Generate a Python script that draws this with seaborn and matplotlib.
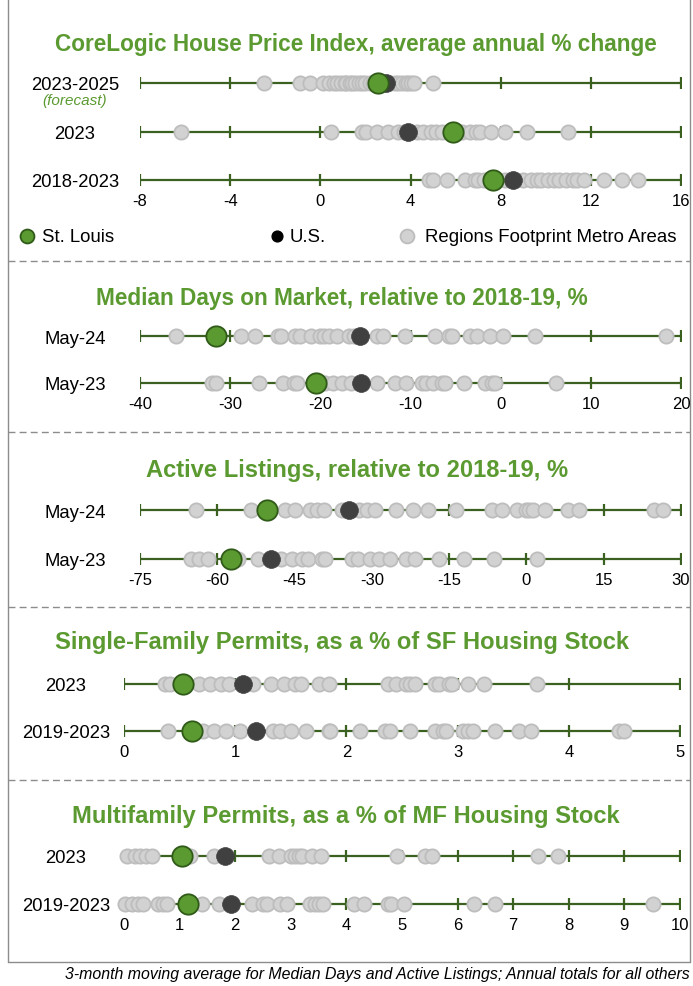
import numpy as np
import pandas as pd
import matplotlib
matplotlib.use("Agg")
import matplotlib.pyplot as plt
import seaborn as sns

sns.set_theme(style="white")
plt.rcParams['font.family'] = ['Liberation Sans', 'DejaVu Sans']

GREEN = '#5b9a30'
GREEN_EDGE = '#2f5a18'
AXIS_GREEN = '#3b6121'
US_GRAY = '#404040'
REG_FILL = '#d2d2d2'
REG_EDGE = '#bdbdbd'
TXT = '#000000'

# ---------------- data ----------------
# CoreLogic HPI
hpi_rows = ['2023-2025', '2023', '2018-2023']
hpi_ticks = [-8, -4, 0, 4, 8, 12, 16]
hpi_stl = [2.55, 5.9, 7.65]
hpi_us = [2.9, 3.9, 8.55]
hpi_regions = [
    [-2.5, -0.9, -0.45, 0.1, 0.37, 0.6, 0.75, 0.92, 1.08, 1.16, 1.3, 1.4, 1.55, 1.7, 1.87,
     2.0, 2.2, 2.35, 3.1, 3.3, 3.45, 3.62, 3.8, 3.9, 4.02, 4.17, 5.0],
    [-6.17, 0.49, 1.87, 2.03, 2.5, 2.98, 3.46, 3.7, 4.3, 4.57, 4.9, 5.13, 5.4, 6.3, 6.63,
     6.9, 7.1, 7.59, 8.19, 9.17, 11.0],
    [4.81, 5.02, 5.6, 6.4, 6.87, 7.0, 7.27, 8.2, 9.0, 9.33, 9.6, 9.81, 10.1, 10.37, 10.6,
     10.92, 11.2, 11.4, 11.71, 12.59, 13.38, 14.1],
]

# Median days on market
dom_rows = ['May-24', 'May-23']
dom_ticks = [-40, -30, -20, -10, 0, 10, 20]
dom_stl = [-31.56, -20.48]
dom_us = [-15.56, -15.52]
dom_regions = [
    [-36.0, -28.8, -27.3, -24.75, -24.36, -22.77, -22.2, -21.0, -20.0, -19.6, -19.0, -18.2,
     -16.83, -16.24, -13.66, -13.07, -10.57, -7.33, -5.74, -5.35, -3.37, -2.57, -1.19, 0.28,
     3.76, 18.3],
    [-31.96, -31.6, -26.8, -24.16, -22.97, -22.57, -19.5, -18.61, -17.62, -16.63, -13.66,
     -11.68, -10.5, -8.71, -8.32, -7.52, -6.53, -6.14, -4.08, -1.78, -1.0, -0.6, 6.14],
]

# Active listings
act_rows = ['May-24', 'May-23']
act_ticks = [-75, -60, -45, -30, -15, 0, 15, 30]
act_stl = [-50.33, -57.26]
act_us = [-34.46, -49.57]
act_regions = [
    [-64.05, -53.5, -46.9, -44.85, -42.1, -40.7, -39.3, -35.8, -32.4, -31.0, -29.3, -25.3,
     -22.0, -19.07, -13.67, -6.74, -4.66, -1.89, -0.15, 0.54, 1.23, 3.66, 8.16, 10.24,
     24.8, 26.5],
    [-65.1, -63.6, -61.8, -55.9, -52.1, -47.6, -45.5, -43.5, -42.4, -39.7, -39.0, -33.9,
     -32.7, -30.4, -28.6, -26.5, -23.4, -21.6, -17.0, -12.14, -6.25, 2.13],
]

# Single-family permits
sf_rows = ['2023', '2019-2023']
sf_ticks = [0, 1, 2, 3, 4, 5]
sf_stl = [0.53, 0.61]
sf_us = [1.07, 1.19]
sf_regions = [
    [0.37, 0.41, 0.67, 0.77, 0.87, 0.94, 1.16, 1.32, 1.44, 1.54, 1.59, 1.75, 1.84, 2.37,
     2.45, 2.54, 2.57, 2.62, 2.80, 2.83, 2.92, 2.95, 3.09, 3.24, 3.71],
    [0.40, 0.71, 0.81, 0.92, 1.04, 1.34, 1.40, 1.50, 1.64, 1.84, 1.85, 2.12, 2.35, 2.39,
     2.57, 2.80, 2.87, 2.90, 3.05, 3.09, 3.14, 3.34, 3.55, 3.66, 4.45, 4.50],
]

# Multifamily permits
mf_rows = ['2023', '2019-2023']
mf_ticks = [0, 1, 2, 3, 4, 5, 6, 7, 8, 9, 10]
mf_stl = [1.05, 1.16]
mf_us = [1.81, 1.93]
mf_regions = [
    [0.05, 0.2, 0.28, 0.4, 0.51, 1.18, 1.61, 2.61, 2.78, 3.01, 3.08, 3.15, 3.21, 3.38,
     3.54, 4.91, 5.41, 5.54, 7.44, 7.80],
    [0.01, 0.15, 0.25, 0.35, 0.61, 0.7, 0.78, 1.41, 1.71, 2.31, 2.5, 2.58, 2.81, 2.94,
     3.34, 3.44, 3.5, 3.58, 4.14, 4.31, 4.74, 4.81, 5.04, 6.30, 6.67, 9.51],
]

titles = [
    'CoreLogic House Price Index, average annual % change',
    'Median Days on Market, relative to 2018-19, %',
    'Active Listings, relative to 2018-19, %',
    'Single-Family Permits, as a % of SF Housing Stock',
    'Multifamily Permits, as a % of MF Housing Stock',
]

W, H = 693, 987
fig = plt.figure(figsize=(W / 100, H / 100), dpi=100)

# overlay in pixel coordinates for frame, separators, legend
ov = fig.add_axes([0, 0, 1, 1])
ov.set_xlim(0, W)
ov.set_ylim(H, 0)
ov.axis('off')
ov.set_facecolor('none')


def long_frame(rows, regions, us, stl):
    recs = []
    for i, r in enumerate(rows):
        for v in regions[i]:
            recs.append((i, v, 'Regions Footprint Metro Areas'))
    for i, r in enumerate(rows):
        recs.append((i, us[i], 'U.S.'))
    for i, r in enumerate(rows):
        recs.append((i, stl[i], 'St. Louis'))
    return pd.DataFrame(recs, columns=['row', 'value', 'group'])


def panel(rows, ticks, regions, us, stl, left, right, row0, pitch, label_cx,
          title, title_cx, title_y, title_size):
    n = len(rows)
    top = row0 - 0.5 * pitch
    bottom = row0 + (n - 1) * pitch + 10
    ax = fig.add_axes([left / W, 1 - bottom / H, (right - left) / W, (bottom - top) / H])
    ax.set_facecolor('none')
    df = long_frame(rows, regions, us, stl)

    ax.hlines(range(n), ticks[0], ticks[-1], color=AXIS_GREEN, lw=1.6, zorder=1)
    for i in range(n):
        ax.plot(ticks, [i] * len(ticks), ls='none', marker='|', ms=8, mew=1.6,
                color=AXIS_GREEN, zorder=1)

    sns.scatterplot(data=df[df.group == 'Regions Footprint Metro Areas'], x='value', y='row',
                    color=REG_FILL, edgecolor=REG_EDGE, linewidth=1.3, s=105, ax=ax,
                    zorder=2, clip_on=False, legend=False)
    sns.scatterplot(data=df[df.group == 'U.S.'], x='value', y='row',
                    color=US_GRAY, edgecolor=US_GRAY, linewidth=0.5, s=165, ax=ax,
                    zorder=3, clip_on=False, legend=False)
    sns.scatterplot(data=df[df.group == 'St. Louis'], x='value', y='row',
                    color=GREEN, edgecolor=GREEN_EDGE, linewidth=1.3, s=215, ax=ax,
                    zorder=4, clip_on=False, legend=False)

    ax.set_xlim(ticks[0], ticks[-1])
    ax.set_ylim(n - 1 + 10 / pitch, -0.5)
    ax.set_xticks(ticks)
    ax.set_xticklabels([str(t) for t in ticks], fontsize=12, color=TXT)
    ax.set_yticks(range(n))
    ax.set_yticklabels(rows, fontsize=13.3, color=TXT, ha='center')
    ax.tick_params(axis='x', length=0, pad=2)
    ax.tick_params(axis='y', length=0, pad=(left - label_cx) / 1.389)
    ax.set_xlabel('')
    ax.set_ylabel('')
    for s in ax.spines.values():
        s.set_visible(False)
    ov.text(title_cx, title_y, title, ha='center', va='center', fontsize=title_size,
            fontweight='bold', color=GREEN)
    return ax


panel(hpi_rows, hpi_ticks, hpi_regions, hpi_us, hpi_stl, 140, 681, 84, 48.5, 75,
      titles[0], 356, 45, 16.3)
panel(dom_rows, dom_ticks, dom_regions, dom_us, dom_stl, 140, 681, 337, 47, 75,
      titles[1], 342, 298, 16.3)
panel(act_rows, act_ticks, act_regions, act_us, act_stl, 140, 681, 511, 49, 75,
      titles[2], 357, 470, 17.1)
panel(sf_rows, sf_ticks, sf_regions, sf_us, sf_stl, 124, 680, 685, 47, 66,
      titles[3], 342, 643, 17.1)
panel(mf_rows, mf_ticks, mf_regions, mf_us, mf_stl, 124, 680, 857, 48, 66,
      titles[4], 346, 816, 17.1)

ov.text(75, 101, '(forecast)', ha='center', va='center', fontsize=11, style='italic', color=GREEN)

# legend
ov.scatter([27], [237], s=100, color=GREEN, edgecolor=GREEN_EDGE, linewidth=1.3)
ov.scatter([277], [237], s=60, color='black')
ov.scatter([407], [237], s=100, color=REG_FILL, edgecolor=REG_EDGE, linewidth=1.3)
ov.text(42, 237, 'St. Louis', va='center', fontsize=13.4, color=TXT)
ov.text(290, 237, 'U.S.', va='center', fontsize=13.4, color=TXT)
ov.text(425, 237, 'Regions Footprint Metro Areas', va='center', fontsize=13.4, color=TXT)

# frame and separators
ov.plot([8, 8], [0, 963], color='#8c8c8c', lw=1)
ov.plot([690, 690], [0, 963], color='#8c8c8c', lw=1)
ov.plot([8, 690], [963, 963], color='#8c8c8c', lw=1)
for y in [262, 433, 608, 781]:
    ov.plot([8, 690], [y, y], color='#8c8c8c', lw=1, ls=(0, (5, 3)))

ov.text(690, 975, '3-month moving average for Median Days and Active Listings; Annual totals for all others',
        ha='right', va='center', fontsize=11.4, style='italic', color=TXT)

fig.savefig('out.png', dpi=100)
